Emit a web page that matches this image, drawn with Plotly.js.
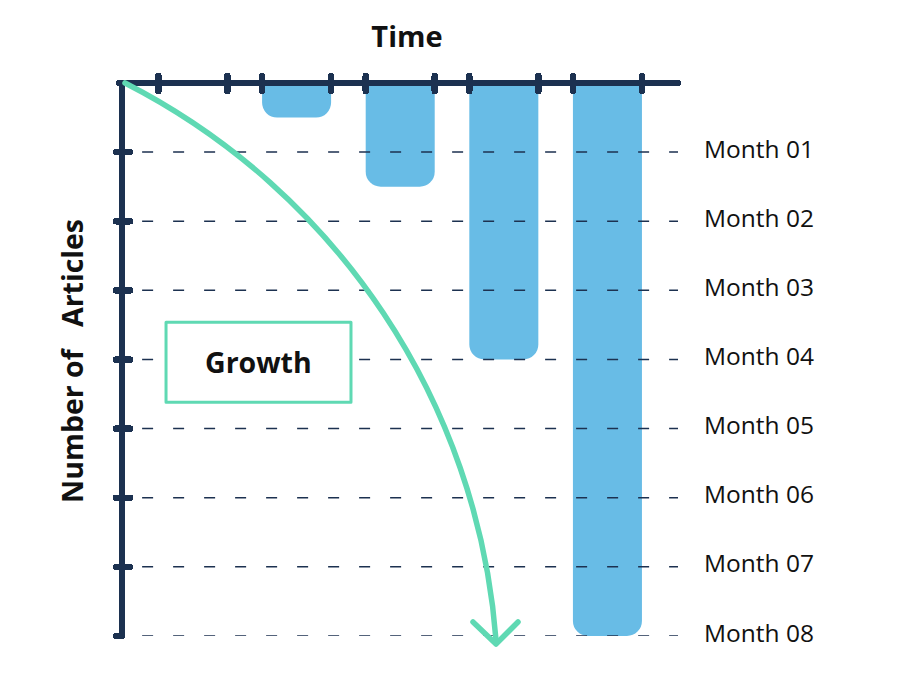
<!DOCTYPE html>
<html>
<head>
<meta charset="utf-8">
<script src="https://cdn.plot.ly/plotly-3.0.1.min.js"></script>
<style>html,body{margin:0;padding:0;background:#fff;}</style>
</head>
<body>
<div id="chart" style="width:898px;height:676px;"></div>
<script>
// ---- data ----
const periods = [0, 1, 2, 3, 4];
const articles = [0, 0.5, 1.5, 4, 8];
const monthVals = [1, 2, 3, 4, 5, 6, 7, 8];
const monthLabels = ['Month 01', 'Month 02', 'Month 03', 'Month 04', 'Month 05', 'Month 06', 'Month 07', 'Month 08'];
const xTitle = 'Time';
const yTitle = 'Number of\u00a0\u00a0\u00a0Articles';
const boxLabel = 'Growth';

// ---- style ----
const navy = '#1c3150';
const blue = '#68bce6';
const green = '#5fd9b3';
const barWidth = 0.666;
const font = '"Open Sans", Lato, sans-serif';

const edgeTicks = [];
periods.forEach(p => { edgeTicks.push(p - barWidth / 2, p + barWidth / 2); });

const xRange = [-0.656, 4.681];
const yRange = [8, 0.0434];

const shapes = monthVals.map(v => ({
  type: 'line', xref: 'x', yref: 'y', layer: 'above',
  x0: -0.79, x1: 4.75, y0: v, y1: v,
  line: {color: navy, width: 1.5, dash: '11px,20px'}
}));
shapes.push({
  type: 'rect', xref: 'x', yref: 'y', layer: 'above',
  x0: -0.26, x1: 1.525, y0: 3.46, y1: 4.62,
  fillcolor: '#ffffff', line: {color: green, width: 3}
});
shapes.push({
  type: 'path', xref: 'paper', yref: 'paper', layer: 'above',
  path: 'M 0.0,1.0055 C 0.3837,0.8084 0.6382,0.4247 0.6709,-0.0073',
  line: {color: green, width: 5.5}
});
shapes.push({
  type: 'path', xref: 'paper', yref: 'paper', layer: 'above',
  path: 'M 0.6293,0.0255 L 0.6709,-0.0145 L 0.7107,0.0255',
  line: {color: green, width: 5.5}
});

const data = [{
  type: 'bar', x: periods, y: articles, width: barWidth,
  marker: {color: blue, cornerradius: 15, line: {width: 0}},
  hoverinfo: 'skip', xaxis: 'x', yaxis: 'y'
}];

const layout = {
  width: 898, height: 676,
  margin: {l: 125, r: 220, t: 86, b: 40, pad: 0},
  paper_bgcolor: '#ffffff', plot_bgcolor: '#ffffff',
  showlegend: false,
  font: {family: font, color: '#111111'},
  title: {text: xTitle, x: 407 / 898, xref: 'container', xanchor: 'center',
          y: 1 - 37 / 676, yref: 'container', yanchor: 'middle',
          font: {family: font, size: 29, weight: 'bold', color: '#111111'}},
  xaxis: {range: xRange, side: 'top', showgrid: false, zeroline: false,
          showline: true, linecolor: navy, linewidth: 6,
          tickmode: 'array', tickvals: edgeTicks, ticks: 'outside', ticklen: 4,
          tickwidth: 6.5, tickcolor: navy, showticklabels: false, fixedrange: true},
  xaxis2: {range: xRange, overlaying: 'x', side: 'top', showgrid: false, zeroline: false,
           showline: false, tickmode: 'array', tickvals: edgeTicks, ticks: 'inside', ticklen: 5,
           tickwidth: 6.5, tickcolor: navy, showticklabels: false, anchor: 'y'},
  yaxis: {range: yRange, side: 'left', showgrid: false, zeroline: false,
          showline: true, linecolor: navy, linewidth: 6,
          tickmode: 'array', tickvals: monthVals, ticks: 'outside', ticklen: 3,
          tickwidth: 6.5, tickcolor: navy, showticklabels: false,
          title: {text: yTitle, standoff: 26, font: {family: font, size: 28.5, weight: 'bold', color: '#111111'}}},
  yaxis2: {range: yRange, overlaying: 'y', side: 'left', anchor: 'x', showgrid: false, zeroline: false,
           showline: false, tickmode: 'array', tickvals: monthVals, ticks: 'inside', ticklen: 5,
           tickwidth: 6.5, tickcolor: navy, showticklabels: false},
  yaxis3: {range: yRange, overlaying: 'y', side: 'right', anchor: 'x', showgrid: false, zeroline: false,
           showline: false, tickmode: 'array', tickvals: monthVals, ticktext: monthLabels, ticks: '',
           ticklabelstandoff: 25, ticklabelshift: 3, tickfont: {family: font, size: 24.5, color: '#111111'}},
  shapes: shapes,
  annotations: [{
    text: boxLabel, xref: 'x', yref: 'y', x: 0.637, y: 4.04, showarrow: false,
    font: {family: font, size: 28.5, weight: 'bold', color: '#111111'}
  }]
};

// empty traces that only switch on the overlay axes
data.push({type: 'scatter', x: [], y: [], xaxis: 'x2', yaxis: 'y', hoverinfo: 'skip'});
data.push({type: 'scatter', x: [], y: [], xaxis: 'x', yaxis: 'y2', hoverinfo: 'skip'});
data.push({type: 'scatter', x: [], y: [], xaxis: 'x', yaxis: 'y3', hoverinfo: 'skip'});

Plotly.newPlot('chart', data, layout, {displayModeBar: false, staticPlot: true}).then(() => {
  document.querySelectorAll('.shapelayer path, path.ticks, path.crisp').forEach(p => {
    p.style.strokeLinecap = 'round';
    p.style.strokeLinejoin = 'round';
  });
  document.querySelectorAll('.shapelayer path').forEach(p => {
    if ((p.style.strokeDasharray || '').length) p.style.strokeLinecap = 'butt';
  });
});
</script>
</body>
</html>
